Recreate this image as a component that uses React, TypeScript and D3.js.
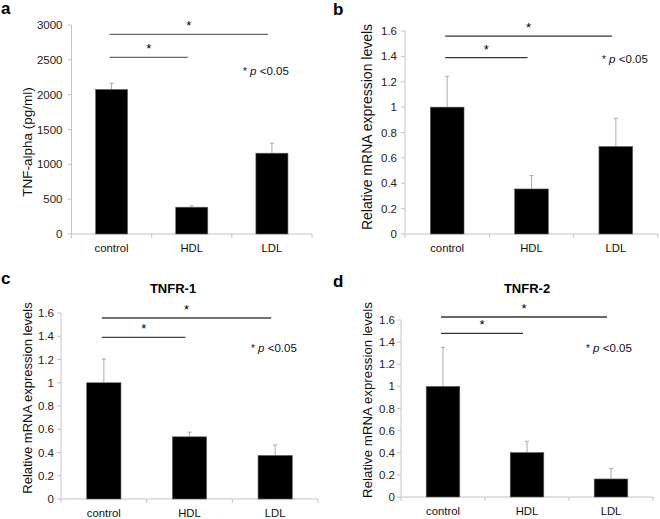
import * as d3 from "d3";

const categories = ["control", "HDL", "LDL"];

const tnfAlphaProtein = [2075, 385, 1160];
const tnfAlphaProteinErr = [88, 20, 142];

const tnfAlphaMrna = [1.0, 0.355, 0.69];
const tnfAlphaMrnaErr = [0.243, 0.105, 0.222];

const tnfr1Mrna = [1.0, 0.535, 0.375];
const tnfr1MrnaErr = [0.205, 0.04, 0.09];

const tnfr2Mrna = [1.0, 0.402, 0.163];
const tnfr2MrnaErr = [0.353, 0.102, 0.095];

const proteinTicks = [0, 500, 1000, 1500, 2000, 2500, 3000];
const mrnaTicks = [0, 0.2, 0.4, 0.6, 0.8, 1, 1.2, 1.4, 1.6];

const SANS = "'Liberation Sans', Arial, Helvetica, sans-serif";
const NARROW = "'Liberation Sans Narrow', 'Liberation Sans', Arial, sans-serif";

type PanelProps = {
  letter: string;
  letterPos: [number, number];
  title?: string;
  titlePos?: [number, number];
  values: number[];
  errors: number[];
  ticks: number[];
  yMax: number;
  xRange: [number, number];
  yRange: [number, number];
  yLabel: string;
  yLabelPos: [number, number];
  yLabelSize: number;
  sigY: [number, number]; // upper (control-LDL), lower (control-HDL), in data units
  sigColor: string;
  pPos: [number, number];
  tickGap: number;
};

const Panel = (p: PanelProps) => {
  const x = d3
    .scaleBand<string>()
    .domain(categories)
    .range(p.xRange)
    .paddingInner(0.6)
    .paddingOuter(0.3);
  const y = d3.scaleLinear().domain([0, p.yMax]).range(p.yRange);
  const step = x.step();
  const cx = (c: string) => (x(c) as number) + x.bandwidth() / 2;
  const fmt = (v: number) => String(+v.toFixed(1));
  const [x0, x1] = p.xRange;
  const y0 = p.yRange[0];
  const boundaries = [0, 1, 2, 3].map((i) => x0 + i * step);

  const sigLines = [
    { y: p.sigY[0], to: "LDL" },
    { y: p.sigY[1], to: "HDL" },
  ];

  return (
    <g fontFamily={SANS}>
      <text x={p.letterPos[0]} y={p.letterPos[1]} fontSize={17} fontWeight="bold" fontFamily={SANS}>
        {p.letter}
      </text>
      {p.title && p.titlePos && (
        <text
          x={p.titlePos[0]}
          y={p.titlePos[1]}
          fontSize={13}
          fontWeight="bold"
          fontFamily={NARROW}
          textAnchor="middle"
        >
          {p.title}
        </text>
      )}

      {/* y axis */}
      <line x1={x0} x2={x0} y1={p.yRange[1]} y2={y0} stroke="#c4c4c4" />
      {p.ticks.map((t) => (
        <g key={t}>
          <line x1={x0 - 4} x2={x0} y1={y(t)} y2={y(t)} stroke="#c4c4c4" />
          <text x={x0 - p.tickGap} y={y(t)} dy="0.35em" fontSize={11.5} textAnchor="end" fill="#222">
            {fmt(t)}
          </text>
        </g>
      ))}
      <text
        transform={`translate(${p.yLabelPos[0]},${p.yLabelPos[1]}) rotate(-90)`}
        fontSize={p.yLabelSize}
        textAnchor="middle"
        fill="#111"
      >
        {p.yLabel}
      </text>

      {/* x axis */}
      <line x1={x0} x2={x1} y1={y0} y2={y0} stroke="#c4c4c4" />
      {boundaries.map((b, i) => (
        <line key={i} x1={b} x2={b} y1={y0} y2={y0 + 4} stroke="#c4c4c4" />
      ))}
      {categories.map((c) => (
        <text key={c} x={cx(c)} y={y0 + 18} fontSize={11.3} textAnchor="middle" fill="#111">
          {c}
        </text>
      ))}

      {/* bars with error bars */}
      {categories.map((c, i) => {
        const top = y(p.values[i]);
        const errTop = y(p.values[i] + p.errors[i]);
        return (
          <g key={c}>
            <line x1={cx(c)} x2={cx(c)} y1={top} y2={errTop} stroke="#aaaaaa" strokeWidth={1} />
            <line x1={cx(c) - 2} x2={cx(c) + 2} y1={errTop} y2={errTop} stroke="#aaaaaa" strokeWidth={1} />
            <rect
              x={x(c)}
              y={top}
              width={x.bandwidth()}
              height={y0 - top}
              fill="#000"
              stroke="#666"
              strokeWidth={0.6}
            />
          </g>
        );
      })}

      {/* significance brackets */}
      {sigLines.map((s, i) => {
        const xa = cx("control") - 2;
        const xb = cx(s.to) - 4;
        return (
          <g key={i}>
            <line x1={xa} x2={xb} y1={y(s.y)} y2={y(s.y)} stroke={p.sigColor} strokeWidth={1.3} />
            <text x={(xa + xb) / 2} y={y(s.y) - 4} fontSize={13} textAnchor="middle">
              *
            </text>
          </g>
        );
      })}

      <text x={p.pPos[0]} y={p.pPos[1]} fontSize={11.5} fill="#111">
        <tspan fontSize={10}>*</tspan>
        <tspan fontStyle="italic"> p </tspan>
        <tspan>&lt;0.05</tspan>
      </text>
    </g>
  );
};

export default function App() {
  return (
    <svg
      width={660}
      height={519}
      style={{ position: "absolute", left: 0, top: 0, background: "#fff" }}
    >
      <rect width={660} height={519} fill="#fff" />
      <Panel
        letter="a"
        letterPos={[1, 14]}
        values={tnfAlphaProtein}
        errors={tnfAlphaProteinErr}
        ticks={proteinTicks}
        yMax={3000}
        xRange={[71.5, 312]}
        yRange={[234, 25]}
        yLabel="TNF-alpha (pg/ml)"
        yLabelPos={[32, 142]}
        yLabelSize={13.5}
        sigY={[2866, 2536]}
        sigColor="#6a6a6a"
        pPos={[243, 75]}
        tickGap={9}
      />
      <Panel
        letter="b"
        letterPos={[333, 15]}
        values={tnfAlphaMrna}
        errors={tnfAlphaMrnaErr}
        ticks={mrnaTicks}
        yMax={1.6}
        xRange={[405, 658]}
        yRange={[234, 31]}
        yLabel="Relative mRNA expression levels"
        yLabelPos={[372, 127]}
        yLabelSize={14}
        sigY={[1.56, 1.39]}
        sigColor="#333"
        pPos={[602, 63]}
        tickGap={8}
      />
      <Panel
        letter="c"
        letterPos={[1, 284]}
        title="TNFR-1"
        titlePos={[173, 293]}
        values={tnfr1Mrna}
        errors={tnfr1MrnaErr}
        ticks={mrnaTicks}
        yMax={1.6}
        xRange={[61, 318]}
        yRange={[499, 313]}
        yLabel="Relative mRNA expression levels"
        yLabelPos={[32, 398]}
        yLabelSize={13}
        sigY={[1.557, 1.39]}
        sigColor="#444"
        pPos={[251, 352]}
        tickGap={7}
      />
      <Panel
        letter="d"
        letterPos={[333, 287]}
        title="TNFR-2"
        titlePos={[527, 293]}
        values={tnfr2Mrna}
        errors={tnfr2MrnaErr}
        ticks={mrnaTicks}
        yMax={1.6}
        xRange={[401, 653]}
        yRange={[497, 320]}
        yLabel="Relative mRNA expression levels"
        yLabelPos={[372, 400]}
        yLabelSize={13.3}
        sigY={[1.627, 1.48]}
        sigColor="#333"
        pPos={[586, 352]}
        tickGap={6}
      />
    </svg>
  );
}
